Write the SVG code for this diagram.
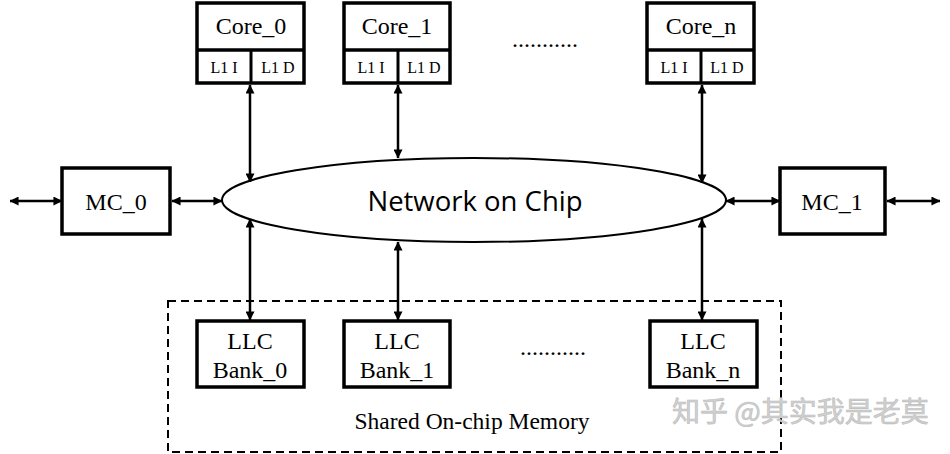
<svg xmlns="http://www.w3.org/2000/svg" width="950" height="454" viewBox="0 0 950 454">
<style>
.box{fill:#fff;stroke:#000;stroke-width:3.5}
.t{font-family:"Liberation Serif","Times New Roman",serif;fill:#000;text-anchor:middle}
.big{font-size:24px}
.small{font-size:16px}
.conn line{stroke:#000;stroke-width:2.5;marker-start:url(#ah);marker-end:url(#ah)}
.wm{font-family:"Noto Sans CJK SC",sans-serif;font-size:28px;fill:#d0d0d0;stroke:#bdbdbd;stroke-width:0.6}
</style>
<defs>
<marker id="ah" viewBox="0 0 10 10" refX="9.5" refY="5" markerWidth="9" markerHeight="9" markerUnits="userSpaceOnUse" orient="auto-start-reverse">
<path d="M0,0 L10,5 L0,10 z" fill="#000"/>
</marker>
</defs>
<rect width="950" height="454" fill="#fff"/>
<g id="shared-memory">
<rect x="168" y="301" width="613" height="151" fill="none" stroke="#000" stroke-width="2" stroke-dasharray="8,5"/>
<text class="t" x="472" y="429" font-size="23.5">Shared On-chip Memory</text>
</g>
<g id="noc">
<ellipse cx="474" cy="200" rx="252" ry="42" fill="#fff" stroke="#000" stroke-width="2"/>
<text x="475" y="211" font-family="'Open Sans','Noto Sans',sans-serif" font-size="27.5" text-anchor="middle" fill="#000">Network on Chip</text>
</g>
<g id="core0">
<rect class="box" x="197" y="3" width="107" height="80"/>
<line x1="197" y1="50" x2="304" y2="50" stroke="#000" stroke-width="3.5"/>
<line x1="251" y1="50" x2="251" y2="83" stroke="#000" stroke-width="3"/>
<text class="t big" x="251" y="34">Core_0</text>
<text class="t small" x="224" y="73">L1 I</text>
<text class="t small" x="278" y="73">L1 D</text>
</g>
<g id="core1">
<rect class="box" x="344" y="3" width="106" height="80"/>
<line x1="344" y1="50" x2="450" y2="50" stroke="#000" stroke-width="3.5"/>
<line x1="398" y1="50" x2="398" y2="83" stroke="#000" stroke-width="3"/>
<text class="t big" x="397" y="34">Core_1</text>
<text class="t small" x="371" y="73">L1 I</text>
<text class="t small" x="424" y="73">L1 D</text>
</g>
<g id="coren">
<rect class="box" x="647" y="3" width="107" height="80"/>
<line x1="647" y1="50" x2="754" y2="50" stroke="#000" stroke-width="3.5"/>
<line x1="701" y1="50" x2="701" y2="83" stroke="#000" stroke-width="3"/>
<text class="t big" x="701" y="34">Core_n</text>
<text class="t small" x="674" y="73">L1 I</text>
<text class="t small" x="727" y="73">L1 D</text>
</g>
<g id="dots-top"><text class="t big" x="545" y="47">...........</text></g>
<g id="mc0">
<rect class="box" x="62" y="168" width="108" height="66"/>
<text class="t big" x="116" y="210">MC_0</text>
</g>
<g id="mc1">
<rect class="box" x="780" y="168" width="105" height="66"/>
<text class="t big" x="832" y="210">MC_1</text>
</g>
<g id="llc0">
<rect class="box" x="197" y="321" width="107" height="66"/>
<text class="t big" x="250" y="349">LLC</text>
<text class="t big" x="250" y="378">Bank_0</text>
</g>
<g id="llc1">
<rect class="box" x="344" y="321" width="106" height="66"/>
<text class="t big" x="397" y="349">LLC</text>
<text class="t big" x="397" y="378">Bank_1</text>
</g>
<g id="llcn">
<rect class="box" x="650" y="321" width="107" height="66"/>
<text class="t big" x="703" y="349">LLC</text>
<text class="t big" x="703" y="378">Bank_n</text>
</g>
<g id="dots-bottom"><text class="t big" x="553" y="355">...........</text></g>
<g class="conn" id="connectors">
<line x1="10" y1="201" x2="62" y2="201"/>
<line x1="172" y1="201" x2="222" y2="201"/>
<line x1="726" y1="201" x2="780" y2="201"/>
<line x1="887" y1="201" x2="940" y2="201"/>
<line x1="250" y1="85" x2="250" y2="182"/>
<line x1="398" y1="85" x2="398" y2="158"/>
<line x1="702" y1="85" x2="702" y2="183"/>
<line x1="250" y1="219" x2="250" y2="320"/>
<line x1="398" y1="242" x2="398" y2="320"/>
<line x1="702" y1="219" x2="702" y2="320"/>
</g>
<g id="watermark"><text class="wm" x="672" y="422">知乎 @其实我是老莫</text></g>
</svg>
